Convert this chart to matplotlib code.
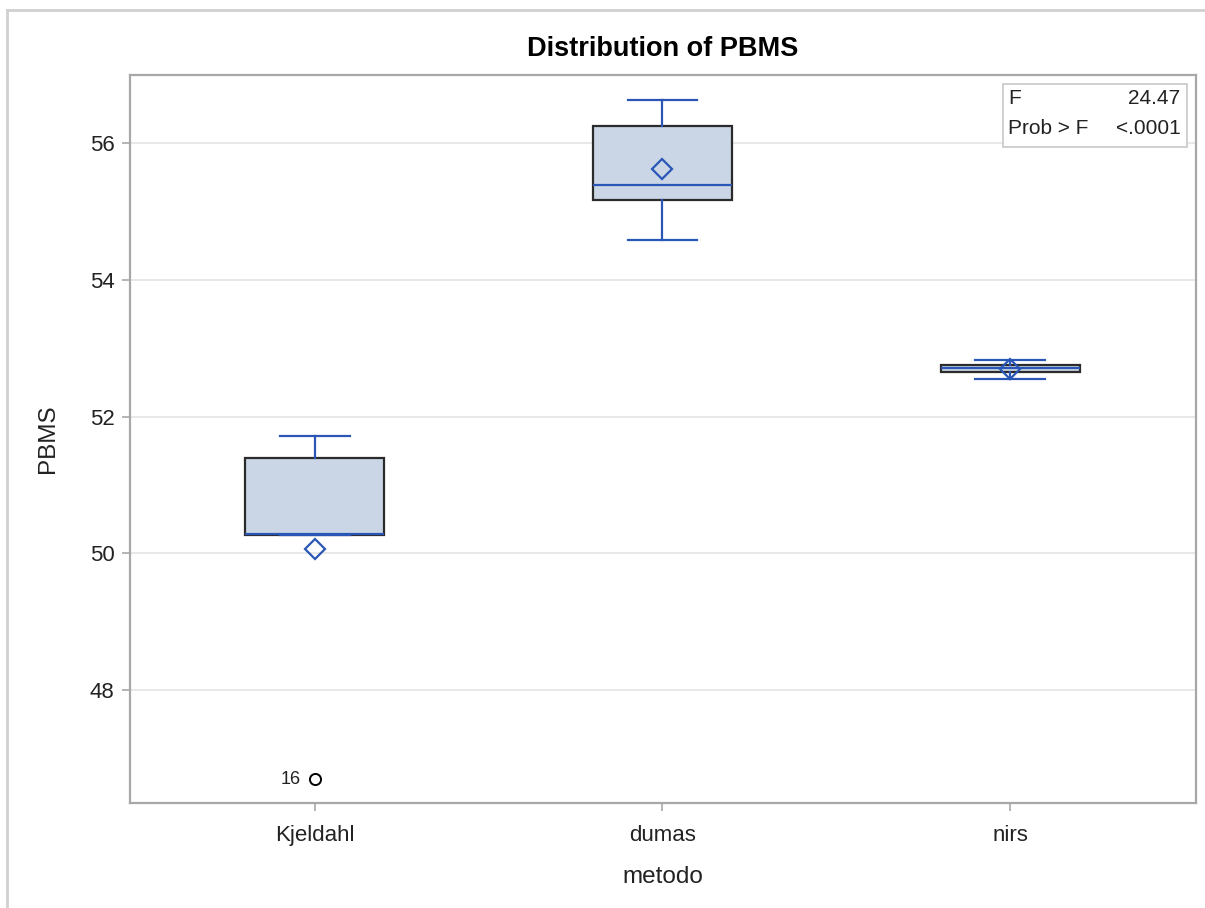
# Box plot of PBMS by metodo (SAS-style distribution plot)

import matplotlib
matplotlib.use("Agg")
import matplotlib.pyplot as plt
from matplotlib.patches import Rectangle
from matplotlib.lines import Line2D

plt.rcParams['font.family'] = ['Liberation Sans', 'DejaVu Sans']

# Data
categories = ['Kjeldahl', 'dumas', 'nirs']
whis_lo = [50.27, 54.59, 52.56]
q1 = [50.27, 55.17, 52.66]
median = [50.28, 55.39, 52.71]
q3 = [51.39, 56.25, 52.76]
whis_hi = [51.72, 56.63, 52.83]
means = [50.07, 55.62, 52.70]
outliers = [[46.70], [], []]
outlier_labels = [['16'], [], []]

y_ticks = [48, 50, 52, 54, 56]
f_value = '24.47'
p_value = '<.0001'

BOX_FILL = '#CAD5E5'
BLUE = '#2A57B5'
EDGE = '#2B2B2B'
AXIS_GRAY = '#A8A8A8'
TXT = '#222222'

fig = plt.figure(figsize=(12.05, 9.08), dpi=100)
ax = fig.add_axes([130 / 1205, 1 - 803 / 908, 1066 / 1205, 728 / 908])

stats = []
for i, name in enumerate(categories):
    stats.append({
        'label': name,
        'whislo': whis_lo[i], 'q1': q1[i], 'med': median[i],
        'q3': q3[i], 'whishi': whis_hi[i], 'mean': means[i],
        'fliers': outliers[i],
    })

positions = list(range(1, len(categories) + 1))
ax.bxp(stats, positions=positions, widths=0.40, patch_artist=True,
       showmeans=True, showfliers=True,
       boxprops=dict(facecolor=BOX_FILL, edgecolor=EDGE, linewidth=1.6),
       medianprops=dict(color=BLUE, linewidth=1.6),
       whiskerprops=dict(color=BLUE, linewidth=1.6),
       capprops=dict(color=BLUE, linewidth=1.6),
       capwidths=0.2,
       meanprops=dict(marker='D', markerfacecolor='none', markeredgecolor=BLUE,
                      markeredgewidth=1.6, markersize=10),
       flierprops=dict(marker='o', markerfacecolor='none', markeredgecolor='black',
                       markeredgewidth=1.4, markersize=8))

# outlier labels
for i, labs in enumerate(outlier_labels):
    for val, lab in zip(outliers[i], labs):
        ax.annotate(lab, (positions[i], val), xytext=(-10, 0), textcoords='offset points',
                    ha='right', va='center', fontsize=13, color=TXT)

ax.set_xlim(0.468, 3.535)
ax.set_ylim(46.35, 57.0)
ax.set_yticks(y_ticks)
ax.set_yticklabels([str(t) for t in y_ticks])
ax.set_xticks(positions)
ax.set_xticklabels(categories)

ax.yaxis.grid(True, color='#E4E4E4', linewidth=1.2)
ax.set_axisbelow(True)
for s in ax.spines.values():
    s.set_color(AXIS_GRAY)
    s.set_linewidth(1.6)
ax.tick_params(axis='both', colors=AXIS_GRAY, labelcolor=TXT,
               labelsize=16, length=6, width=1.2)
ax.tick_params(axis='x', pad=10)
ax.tick_params(axis='y', pad=5)

ax.set_xlabel('metodo', fontsize=17.5, color=TXT, labelpad=14)
ax.set_ylabel('PBMS', fontsize=17.5, color=TXT, labelpad=22)
ax.set_title('Distribution of PBMS', fontsize=19.5, fontweight='bold', pad=14)

# stats inset
x0, x1 = (1003 - 130) / 1066, (1187 - 130) / 1066
y0, y1 = (803 - 147) / 728, (803 - 84) / 728
ax.add_patch(Rectangle((x0, y0), x1 - x0, y1 - y0, transform=ax.transAxes,
                       facecolor='white', edgecolor='#C8C8C8', linewidth=1.2, zorder=5))
rows = [('F', f_value, 98), ('Prob > F', p_value, 128)]
for left, right, ypix in rows:
    ax.text(x0 + 0.005, (803 - ypix) / 728, left, transform=ax.transAxes,
            ha='left', va='center', fontsize=15, color=TXT, zorder=6)
    ax.text(x1 - 0.006, (803 - ypix) / 728, right, transform=ax.transAxes,
            ha='right', va='center', fontsize=15, color=TXT, zorder=6)

# outer image frame
frame_kw = dict(color='#D0D0D0', linewidth=2, transform=fig.transFigure)
fig.add_artist(Line2D([7 / 1205, 7 / 1205], [0, 1 - 10 / 908], **frame_kw))
fig.add_artist(Line2D([7 / 1205, 1], [1 - 10 / 908, 1 - 10 / 908], **frame_kw))

fig.savefig('out.png', dpi=100)
